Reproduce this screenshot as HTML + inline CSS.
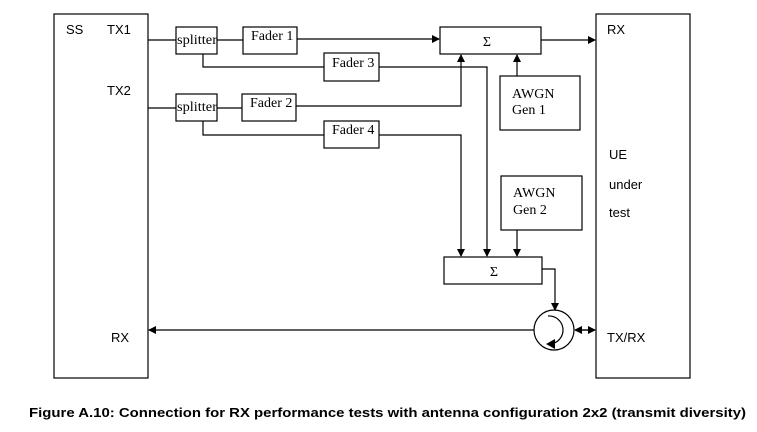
<!DOCTYPE html>
<html><head><meta charset="utf-8"><style>
html,body{margin:0;padding:0;background:#fff;}
svg{display:block;}
.s{font-family:"Liberation Sans",sans-serif;font-size:13px;fill:#000;}
.r{font-family:"Liberation Serif",serif;font-size:14px;fill:#000;}
</style></head><body>
<svg width="757" height="432" viewBox="0 0 757 432" xmlns="http://www.w3.org/2000/svg">
<defs>
<marker id="a" markerWidth="8" markerHeight="8" refX="7" refY="4" orient="auto" markerUnits="userSpaceOnUse"><path d="M0,0 L8,4 L0,8 Z" fill="#000"/></marker>
</defs>
<g fill="none" stroke="#000" stroke-width="1.2">
<rect x="54" y="14" width="94" height="364"/>
<rect x="596" y="14" width="94" height="364"/>
<rect x="176" y="27" width="41" height="27"/>
<rect x="176" y="94" width="41" height="27"/>
<rect x="243" y="27" width="54" height="27"/>
<rect x="242" y="94" width="54" height="27"/>
<rect x="324" y="53" width="55" height="28"/>
<rect x="324" y="121" width="55" height="27"/>
<rect x="440" y="27" width="101" height="27"/>
<rect x="500" y="76" width="80" height="54"/>
<rect x="501" y="176" width="81" height="54"/>
<rect x="444" y="257" width="98" height="27"/>
<line x1="148" y1="40" x2="176" y2="40"/>
<line x1="217" y1="40" x2="243" y2="40"/>
<line x1="297" y1="39" x2="439" y2="39" marker-end="url(#a)"/>
<line x1="541" y1="40" x2="595" y2="40" marker-end="url(#a)"/>
<line x1="148" y1="108" x2="176" y2="108"/>
<line x1="217" y1="108" x2="242" y2="108"/>
<polyline points="203,54 203,67 324,67"/>
<polyline points="379,67 487,67 487,256" marker-end="url(#a)"/>
<polyline points="296,106 461,106 461,55" marker-end="url(#a)"/>
<polyline points="203,121 203,135 324,135"/>
<polyline points="379,135 461,135 461,256" marker-end="url(#a)"/>
<line x1="517" y1="76" x2="517" y2="55" marker-end="url(#a)"/>
<line x1="517" y1="230" x2="517" y2="256" marker-end="url(#a)"/>
<polyline points="542,269 555,269 555,310" marker-end="url(#a)"/>
<circle cx="554" cy="330" r="20"/>
<path d="M548,316 A13,13 0 1 1 550,344"/>
<line x1="534" y1="330" x2="149" y2="330" marker-end="url(#a)"/>
<line x1="576" y1="330" x2="595" y2="330" marker-end="url(#a)"/>
<line x1="594" y1="330" x2="575" y2="330" marker-end="url(#a)"/>
</g>
<path d="M546,344 L555,339 L555,349 Z" fill="#000"/>
<text class="s" x="66" y="34">SS</text>
<text class="s" x="107" y="34">TX1</text>
<text class="s" x="107" y="95">TX2</text>
<text class="s" x="111" y="342">RX</text>
<text class="s" x="607" y="34">RX</text>
<text class="s" x="609" y="159">UE</text>
<text class="s" x="609" y="189">under</text>
<text class="s" x="609" y="217">test</text>
<text class="s" x="607" y="342">TX/RX</text>
<text class="r" x="177" y="44" style="font-size:13.5px" textLength="40" lengthAdjust="spacingAndGlyphs">splitter</text>
<text class="r" x="177" y="111" style="font-size:13.5px" textLength="40" lengthAdjust="spacingAndGlyphs">splitter</text>
<text class="r" x="251" y="40">Fader 1</text>
<text class="r" x="250" y="107">Fader 2</text>
<text class="r" x="332" y="67">Fader 3</text>
<text class="r" x="332" y="134">Fader 4</text>
<text class="r" x="487" y="46" text-anchor="middle">Σ</text>
<text class="r" x="494" y="276" text-anchor="middle">Σ</text>
<text class="r" x="512" y="98">AWGN</text>
<text class="r" x="512" y="114">Gen 1</text>
<text class="r" x="513" y="197">AWGN</text>
<text class="r" x="513" y="214">Gen 2</text>
<text x="29" y="417" font-family="Liberation Sans,sans-serif" font-size="12.5" font-weight="bold" textLength="717" lengthAdjust="spacingAndGlyphs">Figure A.10: Connection for RX performance tests with antenna configuration 2x2 (transmit diversity)</text>
</svg>
</body></html>
